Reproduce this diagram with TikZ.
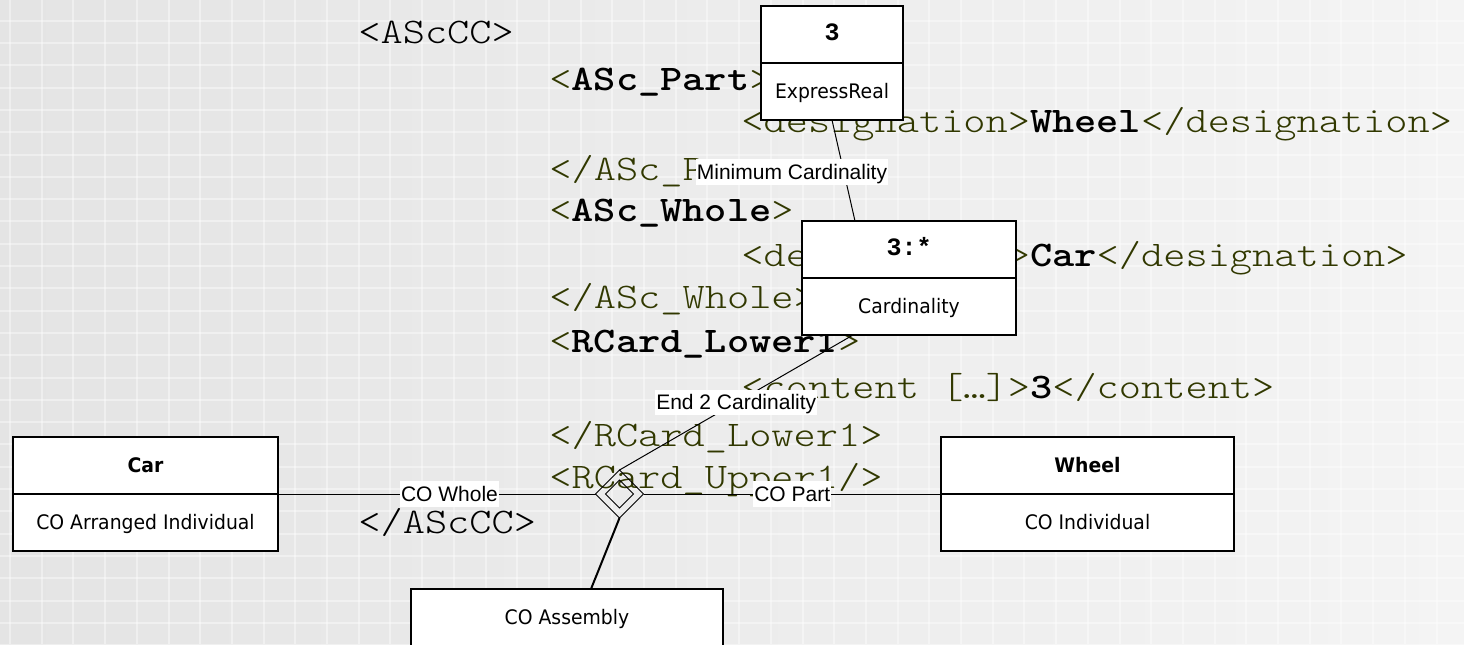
\documentclass[tikz,border=0pt]{standalone}
\usepackage{fontspec}
\setmainfont{Liberation Sans}
\newfontfamily\boxfont[FakeStretch=0.94]{DejaVu Sans}
\newfontfamily\headmonofont{Liberation Mono}
\usetikzlibrary{shapes.geometric,calc}
\definecolor{tagolive}{HTML}{313800}
\definecolor{bgleft}{HTML}{E4E4E4}
\definecolor{bgmid}{HTML}{E8E8E8}
\definecolor{bgright}{HTML}{F4F4F4}
\newcommand\olv[1]{\textcolor{tagolive}{#1}}
% typewriter listing font, widened to Courier proportions
\newcommand\xmlfont{\ttfamily\fontseries{l}\fontsize{18}{20}\selectfont}
\newcommand\xs[1]{\scalebox{1.175}[1]{#1}}
\begin{document}
\begin{tikzpicture}[x=0.5pt,y=-0.5pt,
  xml/.style={anchor=base west, inner sep=0pt, text=black, font=\xmlfont},
  classrect/.style={draw, line width=1pt, fill=white, minimum height=57pt,
    inner sep=0pt, outer sep=0pt},
  divider/.style={line width=1pt},
  boxtext/.style={inner sep=0pt, text height=0.73em, text depth=0pt,
    font=\boxfont\fontsize{10}{12}\selectfont},
  headsans/.style={boxtext, font=\boxfont\bfseries\fontsize{10}{12}\selectfont},
  headmono/.style={inner sep=0pt, text height=0.62em, text depth=0pt,
    font=\headmonofont\bfseries\fontsize{12.5}{14}\selectfont},
  link/.style={line width=0.5pt},
  rolelabel/.style={fill=white, inner xsep=0.5pt, inner ysep=0.6pt,
    text height=9.4pt, text depth=2.2pt, font=\fontsize{10.5}{12}\selectfont},
  gridline/.style={white, opacity=0.4, line width=1pt},
]
\useasboundingbox (0,0) rectangle (1464,644);
\clip (0,0) rectangle (1464,644);

% backdrop: soft grey gradient with a faint white grid
\shade[left color=bgleft, middle color=bgmid, right color=bgright]
  (0,0) rectangle (1464,644);
\foreach \i in {0,...,46}
  \draw[gridline] ({10+31.7*\i},0) -- ({10+31.7*\i},644);
\foreach \j in {0,...,28}
  \draw[gridline] (0,{20.7+22.3*\j}) -- (1464,{20.7+22.3*\j});

% XML listing
\node[xml] (x1)  at (358,43)  {\xs{<AScCC>}};
\node[xml] (x2)  at (549,90)  {\xs{\olv{<}\textbf{ASc\_Part}\olv{>}}};
\node[xml] (x3)  at (741,132) {\xs{\olv{<designation>}\textbf{Wheel}\olv{</designation>}}};
\node[xml] (x4)  at (549,180) {\xs{\olv{</ASc\_Part>}}};
\node[xml] (x5)  at (549,221) {\xs{\olv{<}\textbf{ASc\_Whole}\olv{>}}};
\node[xml] (x6)  at (741,266) {\xs{\olv{<designation>}\textbf{Car}\olv{</designation>}}};
\node[xml] (x7)  at (549,308) {\xs{\olv{</ASc\_Whole>}}};
\node[xml] (x8)  at (549,352) {\xs{\olv{<}\textbf{RCard\_Lower1}\olv{>}}};
\node[xml] (x9)  at (741,398) {\xs{\olv{<content […]>}\textbf{3}\olv{</content>}}};
\node[xml] (x10) at (549,446) {\xs{\olv{</RCard\_Lower1>}}};
\node[xml] (x11) at (549,488) {\xs{\olv{<RCard\_Upper1/>}}};
\node[xml] (x12) at (358,533) {\xs{</AScCC>}};

% class boxes
\node[classrect, minimum width=132.5pt] (car) at (145.5,494) {};
\draw[divider] (car.west) -- (car.east);
\node[headsans] (carh) at (145.5,465.5) {Car};
\node[boxtext]  (carb) at (145.5,522.5) {CO Arranged Individual};

\node[classrect, minimum width=146.5pt] (wheel) at (1087.5,494) {};
\draw[divider] (wheel.west) -- (wheel.east);
\node[headsans] (wheelh) at (1087.5,465.5) {Wheel};
\node[boxtext]  (wheelb) at (1087.5,522.5) {CO Individual};

\node[classrect, minimum width=107pt] (card) at (909,278) {};
\draw[divider] (card.west) -- (card.east);
\node[headmono] (cardh) at (909,249.5) {3:*};
\node[boxtext]  (cardb) at (909,306.5) {Cardinality};

\node[classrect, minimum width=71pt] (er) at (832,63) {};
\draw[divider] (er.west) -- (er.east);
\node[headmono] (erh) at (832,34.5) {3};
\node[boxtext]  (erb) at (832,91.5) {ExpressReal};

\node[classrect, minimum width=156pt] (asm) at (567,646) {};
\draw[divider] (asm.west) -- (asm.east);
\node[boxtext] (asmh) at (567,617.5) {CO Assembly};

% aggregation diamond
\node[diamond, draw, line width=0.5pt, minimum width=24pt, minimum height=24pt,
  inner sep=0pt, outer sep=0pt] (agg) at (619.5,494) {};
\node[diamond, draw, line width=0.5pt, minimum width=14pt, minimum height=14pt,
  inner sep=0pt, outer sep=0pt] (agginner) at (agg.center) {};

% connectors
\draw[link] (er.south) -- ($(card.north west)+(53,0)$);
\node[rolelabel] (minlab) at (792,172) {Minimum Cardinality};
\draw[link] (agg.north) -- ($(card.south west)+(51,0)$)
  node[rolelabel, midway] (endlab) {End 2 Cardinality};
\draw[link] (car.east) -- (agg.west)
  node[rolelabel, pos=0.54] (wholelab) {CO Whole};
\draw[link] (agg.east) -- (wheel.west)
  node[rolelabel, midway] (partlab) {CO Part};
\draw[line width=1pt] (agg.south) -- ($(asm.north)+(24,0)$);
\end{tikzpicture}
\end{document}
